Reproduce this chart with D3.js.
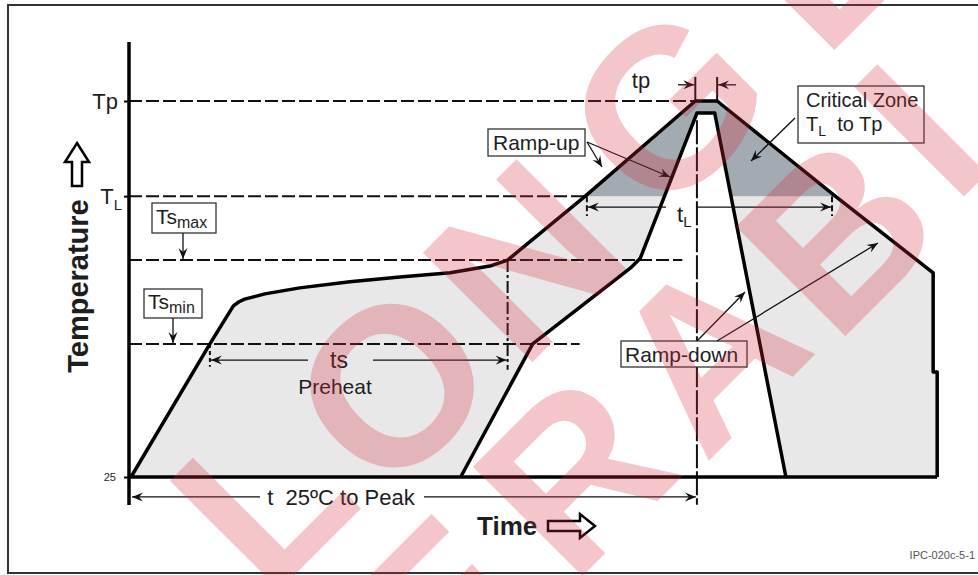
<!DOCTYPE html>
<html>
<head>
<meta charset="utf-8">
<script src="https://cdn.jsdelivr.net/npm/d3@7"></script>
<style>
  body { margin: 0; background: #fff; }
  svg text { font-family: Arial, "Liberation Sans", sans-serif; fill: #1e1e1e; }
</style>
</head>
<body>
<div id="chart"></div>
<script>
// Schematic reflow profile, time and temperature in relative units (0-100)
const levelNames = ["25", "Tsmin", "Tsmax", "TL", "Tp"];
const levelValues = [0, 35.4, 57.7, 74.7, 100];
const levelLineEnds = [null, 55.7, 68.4, 56.4, 70.0]; // where each dashed level line stops (time)

// outer (upper) profile
const outerTime = [0.25, 10.0, 12.9, 13.6, 14.3, 16.8, 21.1, 27.3, 33.5, 39.7, 44.6, 46.8, 56.4, 70.0, 72.7, 87.3, 99.4, 99.4, 99.9, 99.9];
const outerTemp = [0, 35.4, 45.5, 46.6, 47.3, 48.7, 50.3, 51.9, 53.2, 54.3, 56.1, 57.7, 74.7, 100, 100, 74.7, 54.3, 27.9, 27.9, 0];

// inner (lower) profile
const innerTime = [41.0, 49.9, 62.0, 63.2, 70.2, 72.4, 81.2];
const innerTemp = [0, 35.4, 55.6, 58.2, 96.8, 96.8, 0];

// time marks
const tsStart = 10.0, tsEnd = 46.8;       // preheat
const tlStart = 56.6, tlEnd = 86.9;       // time above liquidus
const tpStart = 70.0, tpEnd = 72.7;       // time at peak
const peakTime = 70.2;

const outer = outerTime.map((t, i) => [t, outerTemp[i]]);
const inner = innerTime.map((t, i) => [t, innerTemp[i]]);

const width = 978, height = 575;

const svg = d3.select("#chart").append("svg")
  .attr("width", width).attr("height", height);

const x = d3.scaleLinear().domain([0, 100]).range([129, 938]);
const y = d3.scaleLinear().domain([0, 100]).range([477, 101]);

const defs = svg.append("defs");
defs.append("marker")
  .attr("id", "ah")
  .attr("viewBox", "-11 -5 12 10")
  .attr("markerUnits", "userSpaceOnUse")
  .attr("markerWidth", 12).attr("markerHeight", 10)
  .attr("refX", 0).attr("refY", 0)
  .attr("orient", "auto-start-reverse")
  .append("path")
  .attr("d", "M0,0 L-11,-4.5 L-7,0 L-11,4.5 Z")
  .attr("fill", "#111");

defs.append("clipPath").attr("id", "hot")
  .append("rect")
  .attr("x", 0).attr("y", 0)
  .attr("width", width).attr("height", y(levelValues[3]));

// frame
svg.append("rect")
  .attr("x", 8).attr("y", 5)
  .attr("width", 1000).attr("height", 568)
  .attr("fill", "none").attr("stroke", "#333").attr("stroke-width", 2);

const line = d3.line().x(d => x(d[0])).y(d => y(d[1]));

// fills
svg.append("path").attr("d", line(outer) + "Z").attr("fill", "#e8e8e8");
svg.append("path").attr("d", line(outer) + "Z").attr("fill", "#a2abb2").attr("clip-path", "url(#hot)");
svg.append("path").attr("d", line(inner) + "Z").attr("fill", "#fff");

// dashed level lines
levelValues.forEach((v, i) => {
  if (levelLineEnds[i] === null) return;
  svg.append("line")
    .attr("x1", x(0)).attr("x2", x(levelLineEnds[i]))
    .attr("y1", y(v)).attr("y2", y(v))
    .attr("stroke", "#111").attr("stroke-width", 2)
    .attr("stroke-dasharray", "13,4");
});

// vertical guide lines
const vguide = (t, v1, v2, dash) => svg.append("line")
  .attr("x1", x(t)).attr("x2", x(t))
  .attr("y1", y(v1)).attr("y2", y(v2))
  .attr("stroke", "#111").attr("stroke-width", 2)
  .attr("stroke-dasharray", dash);

vguide(peakTime, 94.9, -7.4, "24,3");
vguide(tsEnd, levelValues[2], 28.5, "12,3,3,3");
vguide(tsStart, levelValues[1], 29.3, "4,3");
vguide(tlStart, levelValues[3], 69.4, "6,3");
vguide(tlEnd, levelValues[3], 69.4, "6,3");
vguide(tpStart, 100, 106.4, null);
vguide(tpEnd, 100, 106.4, null);

// profiles
svg.append("path").attr("d", line(outer))
  .attr("fill", "none").attr("stroke", "#000").attr("stroke-width", 3.5)
  .attr("stroke-linejoin", "round");
svg.append("path").attr("d", line(inner))
  .attr("fill", "none").attr("stroke", "#000").attr("stroke-width", 3.5)
  .attr("stroke-linejoin", "round");

// axes
svg.append("line")
  .attr("x1", x(0)).attr("x2", x(0)).attr("y1", 42).attr("y2", 505)
  .attr("stroke", "#000").attr("stroke-width", 3.5);
svg.append("line")
  .attr("x1", x(0)).attr("x2", x(99.9)).attr("y1", y(0)).attr("y2", y(0))
  .attr("stroke", "#000").attr("stroke-width", 3.5);

const yAxis = d3.axisLeft(y)
  .tickValues([levelValues[0], levelValues[3], levelValues[4]])
  .tickSize(5)
  .tickFormat(d => levelNames[levelValues.indexOf(d)]);

const gy = svg.append("g").attr("transform", `translate(${x(0)},0)`).call(yAxis);
gy.select(".domain").remove();
gy.selectAll(".tick line").attr("stroke", "#000").attr("stroke-width", 2);
gy.selectAll(".tick text").each(function (d) {
  const t = d3.select(this).attr("fill", null);
  if (d === 0) {
    t.attr("x", -13).style("font-size", "11px");
  } else if (d === levelValues[4]) {
    t.attr("x", -11).style("font-size", "22px");
  } else {
    t.text(null).attr("x", -7).style("font-size", "22px");
    t.append("tspan").text("T");
    t.append("tspan").text("L").style("font-size", "15px").attr("dy", 6);
  }
});

// dimension arrows
const arrow = (x1, y1, x2, y2, start, end) => {
  const l = svg.append("line")
    .attr("x1", x1).attr("y1", y1).attr("x2", x2).attr("y2", y2)
    .attr("stroke", "#111").attr("stroke-width", 1.3);
  if (start) l.attr("marker-start", "url(#ah)");
  if (end) l.attr("marker-end", "url(#ah)");
  return l;
};

// ts
const tsY = y(31.1);
arrow(x(tsStart) + 1, tsY, 308, tsY, true, false);
arrow(373, tsY, x(tsEnd) - 1, tsY, false, true);
svg.append("text").attr("x", 339).attr("y", 368).attr("text-anchor", "middle")
  .style("font-size", "23px").text("ts");
svg.append("text").attr("x", 335).attr("y", 394).attr("text-anchor", "middle")
  .style("font-size", "21px").text("Preheat");

// tL
const tlY = y(71.8);
arrow(x(tlStart) + 1, tlY, 666, tlY, true, false);
arrow(x(peakTime), tlY, x(tlEnd) - 1, tlY, false, true);
const tlt = svg.append("text").attr("x", 677).attr("y", 222).style("font-size", "22px");
tlt.append("tspan").text("t");
tlt.append("tspan").text("L").style("font-size", "15px").attr("dy", 5);

// t 25 to peak
const pY = y(-5.3);
arrow(x(0.25) + 1, pY, 260, pY, true, false);
arrow(424, pY, x(peakTime) - 1, pY, false, true);
svg.append("text").attr("x", 341).attr("y", 505).attr("text-anchor", "middle")
  .style("font-size", "22px").attr("xml:space", "preserve").text("t  25\u00BAC to Peak");

// tp
const tpY = y(104.3);
arrow(678, tpY, x(tpStart) - 1, tpY, false, true);
arrow(736, tpY, x(tpEnd) + 1, tpY, false, true);
svg.append("text").attr("x", 641).attr("y", 88).attr("text-anchor", "middle")
  .style("font-size", "22px").text("tp");

// label boxes
const box = (bx, by, bw, bh) => svg.append("rect")
  .attr("x", bx).attr("y", by).attr("width", bw).attr("height", bh)
  .attr("fill", "#fff").attr("stroke", "#333").attr("stroke-width", 1.3);

box(152, 203, 64, 30);
const tmx = svg.append("text").attr("x", 156).attr("y", 224).style("font-size", "21px");
tmx.append("tspan").text("Ts");
tmx.append("tspan").text("max").style("font-size", "16px").attr("dy", 4);
arrow(183, 233, 183, y(levelValues[2]) - 1, false, true);

box(144, 289, 58, 29);
const tmn = svg.append("text").attr("x", 148).attr("y", 309).style("font-size", "21px");
tmn.append("tspan").text("Ts");
tmn.append("tspan").text("min").style("font-size", "16px").attr("dy", 4);
arrow(173, 318, 173, y(levelValues[1]) - 1, false, true);

box(488, 129, 97, 27);
svg.append("text").attr("x", 493).attr("y", 150).style("font-size", "21px").text("Ramp-up");
arrow(587, 142, 602, 167, false, true);
arrow(587, 142, 670, 177, false, true);

box(798, 86, 126, 57);
svg.append("text").attr("x", 806).attr("y", 107).style("font-size", "20px").text("Critical Zone");
const cz = svg.append("text").attr("x", 806).attr("y", 131).style("font-size", "20px");
cz.append("tspan").text("T");
cz.append("tspan").text("L").style("font-size", "14px").attr("dy", 5);
cz.append("tspan").text("  to Tp").attr("dy", -5).attr("xml:space", "preserve");
arrow(795, 118, 751, 161, false, true);

box(621, 341, 126, 26);
svg.append("text").attr("x", 625).attr("y", 362).style("font-size", "21px").text("Ramp-down");
arrow(697, 341, 745, 292, false, true);
arrow(717, 341, 878, 243, false, true);

// axis titles with hollow arrows
svg.append("text")
  .attr("transform", "translate(88,286) rotate(-90)")
  .attr("text-anchor", "middle")
  .style("font-size", "29px").style("font-weight", "bold")
  .text("Temperature");
svg.append("path")
  .attr("d", "M77,143 L89,162 L82,162 L82,186 L72,186 L72,162 L65,162 Z")
  .attr("fill", "#fff").attr("stroke", "#000").attr("stroke-width", 2.5)
  .attr("stroke-linejoin", "miter");

svg.append("text").attr("x", 477).attr("y", 535)
  .style("font-size", "26px").style("font-weight", "bold").text("Time");
svg.append("path")
  .attr("d", "M595,526 L580,514 L580,521 L548,521 L548,531 L580,531 L580,538 Z")
  .attr("fill", "#fff").attr("stroke", "#000").attr("stroke-width", 2.5);

svg.append("text").attr("x", 975).attr("y", 559).attr("text-anchor", "end")
  .style("font-size", "11px").style("fill", "#555").text("IPC-020c-5-1");

// watermark
const watermark = [
  ["L", 260, 495], ["O", 390, 383], ["N", 522, 258], ["G", 665, 105], ["L", 815, -45],
  ["E", 440, 610], ["R", 572, 472], ["A", 705, 350], ["B", 835, 232], ["I", 918, 128]
];
const wm = svg.append("g").attr("pointer-events", "none");
watermark.forEach(([ch, cx, cy]) => {
  wm.append("text")
    .attr("transform", `translate(${cx},${cy}) rotate(-45)`)
    .attr("text-anchor", "middle")
    .attr("dy", "0.36em")
    .style("font-size", "225px").style("font-weight", "bold")
    .style("fill", "rgb(214,40,56)").style("fill-opacity", 0.27)
    .text(ch);
});
</script>
</body>
</html>
